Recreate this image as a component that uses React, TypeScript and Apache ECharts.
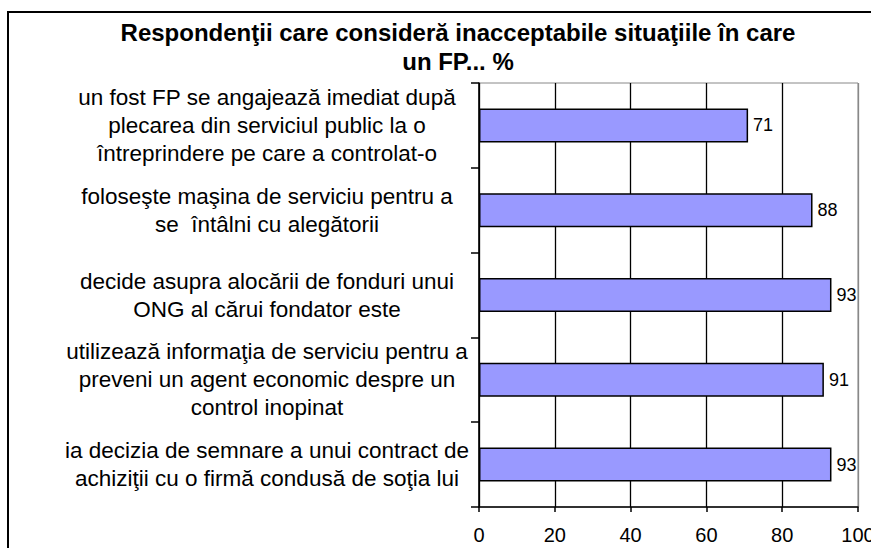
import React, { useEffect, useRef } from "react";
import * as echarts from "echarts";

const titleLines = [
  "Respondenţii care consideră inacceptabile situaţiile în care",
  "un FP... %",
];

const categories = [
  "un fost FP se angajează imediat după\nplecarea din serviciul public la o\nîntreprindere pe care a controlat-o",
  "foloseşte maşina de serviciu pentru a\nse  întâlni cu alegătorii",
  "decide asupra alocării de fonduri unui\nONG al cărui fondator este",
  "utilizează informaţia de serviciu pentru a\npreveni un agent economic despre un\ncontrol inopinat",
  "ia decizia de semnare a unui contract de\nachiziţii cu o firmă condusă de soţia lui",
];

const values = [71, 88, 93, 91, 93];

const xMin = 0;
const xMax = 100;
const xStep = 20;

const FONT = "'Liberation Sans', Arial, sans-serif";

export default function App() {
  const ref = useRef<HTMLDivElement>(null);

  useEffect(() => {
    if (!ref.current) return;
    const chart = echarts.init(ref.current, undefined, { renderer: "svg" });
    chart.setOption({
      animation: false,
      backgroundColor: "#ffffff",
      graphic: [
        {
          type: "rect",
          shape: { x: 8, y: 12, width: 900, height: 600 },
          style: { fill: "none", stroke: "#000", lineWidth: 2 },
          z: 100,
        },
        {
          type: "text",
          x: 458,
          y: 18,
          style: {
            text: titleLines.join("\n"),
            fontFamily: FONT,
            fontWeight: "bold",
            fontSize: 24,
            lineHeight: 29,
            fill: "#000",
            align: "center",
            verticalAlign: "top",
          },
        },
      ],
      grid: {
        left: 479,
        right: 13,
        top: 83,
        bottom: 41,
        show: true,
        borderColor: "#888",
        borderWidth: 1,
        backgroundColor: "transparent",
        containLabel: false,
        outerBoundsMode: "none",
      },
      xAxis: {
        type: "value",
        min: xMin,
        max: xMax,
        interval: xStep,
        axisLine: { show: true, lineStyle: { color: "#000", width: 1.5 } },
        axisTick: { show: true, length: 5, lineStyle: { color: "#000", width: 1.5 } },
        splitLine: {
          show: true,
          lineStyle: {
            color: ["#000", "#000", "#000", "#000", "#000", "#888"],
            width: 1.3,
          },
        },
        axisLabel: {
          fontFamily: FONT,
          fontSize: 20,
          color: "#000",
          margin: 18,
        },
      },
      yAxis: {
        type: "category",
        data: categories,
        inverse: true,
        axisLine: { show: true, lineStyle: { color: "#000", width: 1.5 } },
        axisTick: { show: true, length: 8, lineStyle: { color: "#000", width: 1.5 } },
        splitLine: { show: false },
        axisLabel: {
          fontFamily: FONT,
          fontSize: 22.5,
          lineHeight: 28,
          color: "#000",
          align: "center",
          margin: 212,
          interval: 0,
        },
      },
      series: [
        {
          type: "bar",
          data: values,
          barWidth: 34,
          itemStyle: { color: "#9999FF", borderColor: "#000", borderWidth: 1.5 },
          label: {
            show: true,
            position: "right",
            distance: 5,
            fontFamily: FONT,
            fontSize: 18,
            color: "#000",
          },
        },
      ],
    });
    return () => chart.dispose();
  }, []);

  return (
    <div
      ref={ref}
      style={{ position: "fixed", left: 0, top: 0, width: 871, height: 548 }}
    />
  );
}
